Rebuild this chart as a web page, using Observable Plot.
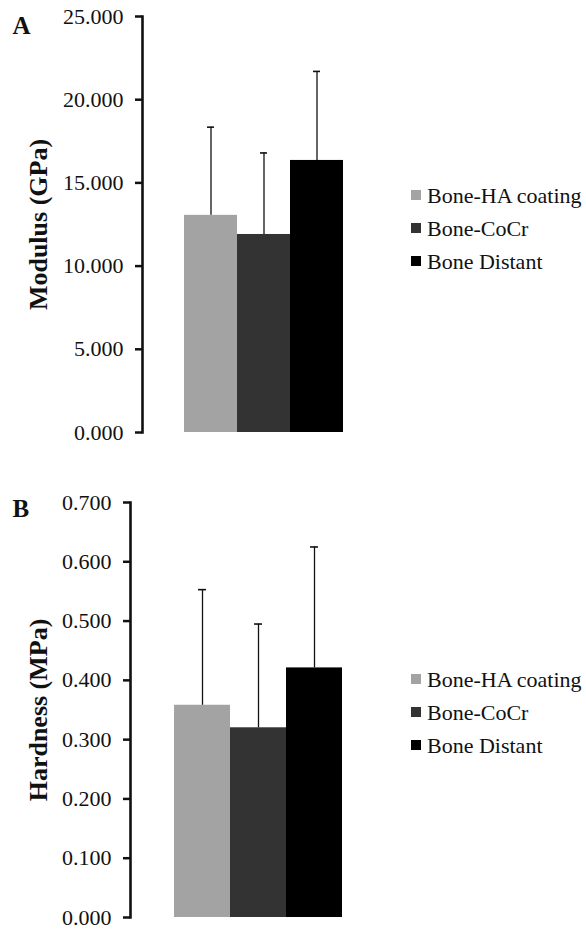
<!DOCTYPE html>
<html>
<head>
<meta charset="utf-8">
<script src="https://cdn.jsdelivr.net/npm/d3@7"></script>
<script src="https://cdn.jsdelivr.net/npm/@observablehq/plot@0.6"></script>
<style>
  html, body { margin: 0; padding: 0; background: #fff; }
  #wrap { position: relative; width: 586px; height: 931px; overflow: hidden; font-family: "Liberation Serif", "DejaVu Serif", serif; }
  #wrap svg { position: absolute; left: 0; }
  .leg { position: absolute; font-size: 22px; color: #111; white-space: nowrap; line-height: 1; }
  .leg .sw { display: inline-block; width: 10px; height: 10px; position: absolute; left: 0; top: 50%; margin-top: -6px; }
  .leg .lb { position: absolute; left: 16px; top: 50%; transform: translateY(-50%); }
</style>
</head>
<body>
<div id="wrap"></div>
<script>
const categories = ["Bone-HA coating", "Bone-CoCr", "Bone Distant"];
const colors = ["#a3a3a3", "#333333", "#000000"];
const modulusMean = [13.05, 11.9, 16.35];
const modulusSD = [5.3, 4.9, 5.35];
const hardnessMean = [0.358, 0.320, 0.421];
const hardnessSD = [0.195, 0.175, 0.204];
const modulusTicks = [0, 5, 10, 15, 20, 25];
const hardnessTicks = [0, 0.1, 0.2, 0.3, 0.4, 0.5, 0.6, 0.7];
const panelLetters = ["A", "B"];
const yTitles = ["Modulus (GPa)", "Hardness (MPa)"];

const wrap = document.getElementById("wrap");

function panel(means, sds, ticks, domainMax, letter, title, cfg) {
  const rows = categories.map((c, i) => ({cat: c, mean: means[i], hi: means[i] + sds[i]}));
  const chart = Plot.plot({
    width: 586,
    height: cfg.height,
    marginTop: cfg.mt,
    marginBottom: cfg.mb,
    marginLeft: cfg.ml,
    marginRight: 0,
    style: {fontFamily: "Liberation Serif, serif", color: "#111", background: "transparent"},
    x: {domain: categories, range: cfg.xr, padding: 0, axis: null},
    y: {domain: [0, domainMax], axis: null},
    color: {domain: categories, range: colors},
    marks: [
      Plot.barY(rows, {x: "cat", y: "mean", fill: "cat"}),
      Plot.ruleX(rows, {x: "cat", y1: "mean", y2: "hi", stroke: "#111", strokeWidth: 1.3}),
      Plot.tickY(rows, {x: "cat", y: "hi", stroke: "#111", strokeWidth: 1.6, insetLeft: cfg.capInset, insetRight: cfg.capInset}),
      Plot.axisY({ticks: ticks, tickFormat: d3.format(".3f"), tickSize: 7, tickPadding: 12, strokeWidth: 2.5, fontSize: 22, label: null, fill: "#111"}),
      Plot.frame({anchor: "left", strokeWidth: 2.6, stroke: "#111"}),
      Plot.text([title], {frameAnchor: "left", text: d => d, rotate: -90, dx: cfg.titleX - cfg.ml, fontSize: 26, fontWeight: "bold", textAnchor: "middle", lineAnchor: "middle", fill: "#111"}),
      Plot.text([letter], {frameAnchor: "top-left", text: d => d, dx: 12 - cfg.ml, dy: cfg.letterY - cfg.mt, fontSize: 25, fontWeight: "bold", textAnchor: "start", lineAnchor: "middle", fill: "#111"})
    ]
  });
  chart.style.top = cfg.top + "px";
  wrap.appendChild(chart);
  categories.forEach((c, i) => {
    const d = document.createElement("div");
    d.className = "leg";
    d.style.left = "411px";
    d.style.top = cfg.legY[i] + "px";
    d.innerHTML = `<span class="sw" style="background:${colors[i]}"></span><span class="lb">${c}</span>`;
    wrap.appendChild(d);
  });
}

panel(modulusMean, modulusSD, modulusTicks, 25, panelLetters[0], yTitles[0], {
  top: 0, height: 465, mt: 16, mb: 33, ml: 142, xr: [183, 343], capInset: 23,
  titleX: 38, letterY: 25, legY: [196, 229, 262]
});
panel(hardnessMean, hardnessSD, hardnessTicks, 0.7, panelLetters[1], yTitles[1], {
  top: 465, height: 466, mt: 37, mb: 14, ml: 130, xr: [173, 342], capInset: 24,
  titleX: 38, letterY: 508 - 465, legY: [680, 713, 746]
});
</script>
</body>
</html>
